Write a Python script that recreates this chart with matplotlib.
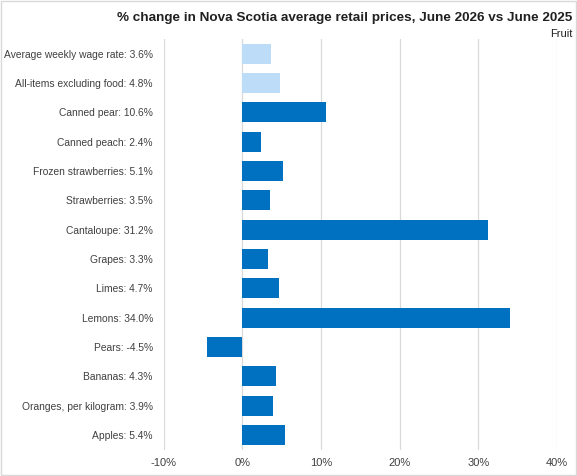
import matplotlib
import matplotlib.pyplot as plt
import numpy as np

matplotlib.rcParams['font.family'] = ['Liberation Sans', 'DejaVu Sans']

# categories listed top to bottom
items = ["Average weekly wage rate", "All-items excluding food", "Canned pear",
         "Canned peach", "Frozen strawberries", "Strawberries", "Cantaloupe",
         "Grapes", "Limes", "Lemons", "Pears", "Bananas",
         "Oranges, per kilogram", "Apples"]
pct_change = [3.6, 4.8, 10.6, 2.4, 5.1, 3.5, 31.2, 3.3, 4.7, 34.0, -4.5, 4.3, 3.9, 5.4]
is_reference = [True, True] + [False] * 12
xticks = [-10, 0, 10, 20, 30, 40]

labels = [f"{n}: {v:.1f}%" for n, v in zip(items, pct_change)]
colors = ['#BDDCF7' if r else '#0070C0' for r in is_reference]
ypos = np.arange(len(items))

fig = plt.figure(figsize=(5.77, 4.76), dpi=100)
ax = fig.add_axes([0.284, 0.055, 0.681, 0.863])
ax.barh(ypos, pct_change, height=0.68, color=colors, zorder=2)
ax.set_ylim(len(items) - 0.5, -0.5)
ax.set_xlim(-10, 40)
ax.set_yticks(ypos)
ax.set_yticklabels(labels, fontsize=7.4, color='#404040')
ax.set_xticks(xticks)
ax.set_xticklabels([f"{t}%" for t in xticks], fontsize=8, color='#404040')
ax.tick_params(axis='y', length=0, pad=8)
ax.tick_params(axis='x', length=0, pad=6)
ax.grid(axis='x', color='#d9d9d9', linewidth=0.9, zorder=0)
for s in ax.spines.values():
    s.set_visible(False)

fig.text(0.992, 0.975, "% change in Nova Scotia average retail prices, June 2026 vs June 2025",
         ha='right', va='top', fontsize=9.7, fontweight='bold', color='#202020')
fig.text(0.992, 0.940, "Fruit", ha='right', va='top', fontsize=8, color='#202020')

fig.patches.append(plt.Rectangle((0.002, 0.002), 0.996, 0.996, transform=fig.transFigure,
                                 fill=False, edgecolor='#d9d9d9', linewidth=1))

fig.savefig('out.png', dpi=100)
